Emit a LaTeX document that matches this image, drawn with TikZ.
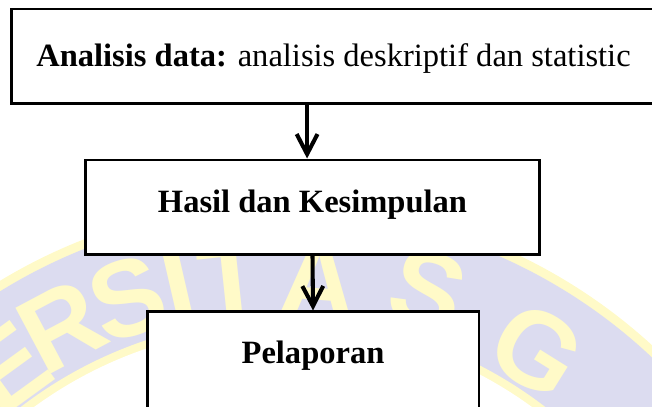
\documentclass[tikz,border=0pt]{standalone}
\usepackage{fontspec}
\setmainfont{Liberation Serif}
\newfontfamily\sealfont{Liberation Sans}
\usepackage{xcolor}
\usepackage{tikz}
\usetikzlibrary{arrows.meta, positioning}

\definecolor{sealblue}{RGB}{220,220,240}
\definecolor{sealyellow}{RGB}{255,250,200}
\tikzset{
	stepbox/.style={draw, line width=1.1pt, fill=white, inner sep=0pt, text depth=0pt, font=\fontsize{12}{14}\selectfont},
	flow/.style={line width=1.5pt, -{Straight Barb[length=7.4pt, width=7.7pt]}},
	sealletter/.style={text=sealyellow, inner sep=0pt, font=\sealfont\bfseries\fontsize{40}{40}\selectfont}
}

\begin{document}
\begin{tikzpicture}[x=0.369pt, y=-0.369pt]
				% Canvas:
				\useasboundingbox (0,0) rectangle (652,406);
				\clip (0,0) rectangle (652,406);
				% Watermark seal:
				\fill[sealyellow] (283,749) circle[radius=547];
				\fill[sealblue] (283,749) circle[radius=538];
				\fill[sealyellow] (283,749) circle[radius=431];
				\fill[white] (283,749) circle[radius=423];
				\foreach \l/\x/\y/\a in {E/8/368/-36, R/62/326/-28, S/128/298/-19, I/178/284/-13, T/232/282/-6, A/318/282/4, S/428/290/17, G/537/350/32}
					\node[sealletter, rotate=-\a](L\x) at (\x, \y){\l};
				% Boxes:
				\node[stepbox, minimum width=238pt, minimum height=34.7pt, text height=7.6pt](B1) at (333.5, 56){\textbf{Analisis data:} analisis deskriptif dan statistic};
				\node[stepbox, minimum width=167.2pt, minimum height=34.7pt, text height=3.7pt](B2) at (312.5, 207){\textbf{Hasil dan Kesimpulan}};
				\node[stepbox, minimum width=122.5pt, minimum height=36.2pt, text height=1.5pt](B3) at (313, 361){\textbf{Pelaporan}};
				% Arrows:
				\draw[flow] ([xshift=-2pt]B2.north |- B1.south) -- ([xshift=-2pt]B2.north);
				\draw[flow] (B2.south) -- (B3.north);
			\end{tikzpicture}
\end{document}
